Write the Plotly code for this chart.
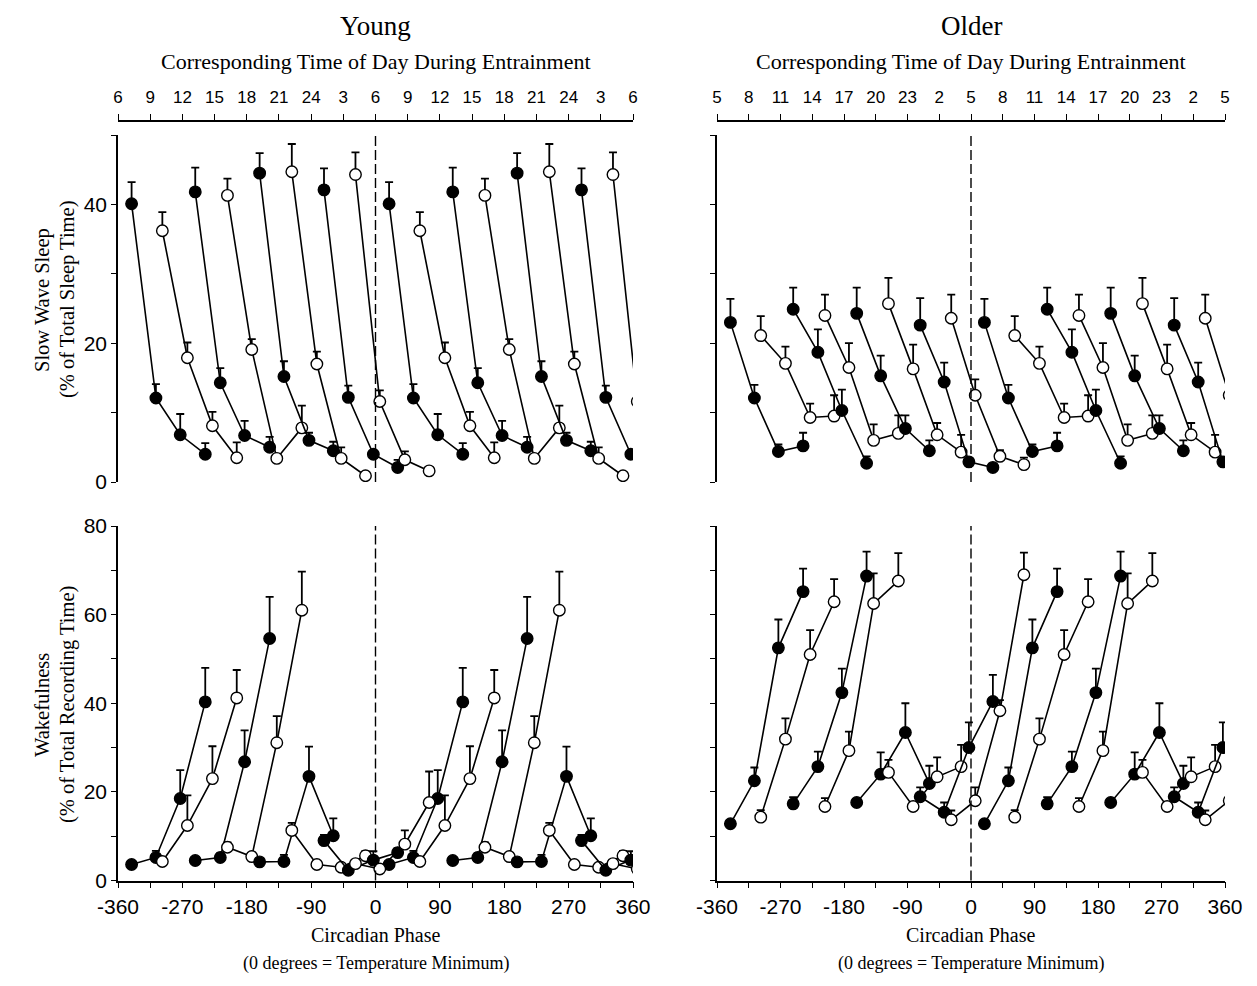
import plotly.graph_objects as go

# ---------------- data ----------------
# circadian phase (deg) of the 4 points of each of the 8 episode bins
PHASE = [
    [-341, -307, -273, -238],
    [-298, -263, -228, -194],
    [-252, -217, -183, -148],
    [-207, -173, -138, -103],
    [-162, -128, -93, -59],
    [-117, -82, -48, -14],
    [-72, -38, -3, 31],
    [-28, 6, 41, 75],
]
FILLED = [True, False, True, False, True, False, True, False]

young_sws = [
    [40.1, 12.1, 6.8, 4.0],
    [36.2, 17.9, 8.1, 3.5],
    [41.8, 14.3, 6.7, 5.0],
    [41.3, 19.1, 3.4, 7.8],
    [44.5, 15.2, 6.0, 4.5],
    [44.7, 17.0, 3.4, 0.9],
    [42.1, 12.2, 4.0, 2.1],
    [44.3, 11.6, 3.2, 1.6],
]
young_sws_err = [
    [3.1, 2.0, 3.0, 1.6],
    [2.7, 2.2, 2.0, 2.2],
    [3.5, 2.1, 2.1, 1.5],
    [2.4, 1.5, 0.0, 3.2],
    [2.9, 2.2, 1.1, 1.3],
    [4.0, 1.8, 1.6, 0.0],
    [3.1, 1.7, 0.0, 1.1],
    [3.2, 1.6, 1.2, 0.0],
]
young_wake = [
    [3.6, 5.2, 18.5, 40.3],
    [4.3, 12.4, 23.0, 41.2],
    [4.5, 5.2, 26.8, 54.6],
    [7.5, 5.4, 31.1, 61.0],
    [4.2, 4.3, 23.5, 10.1],
    [11.3, 3.6, 3.0, 5.6],
    [9.0, 2.3, 4.6, 6.3],
    [3.8, 2.6, 8.2, 17.6],
]
young_wake_err = [
    [0.0, 1.5, 6.4, 7.7],
    [0.0, 6.8, 7.3, 6.3],
    [0.0, 1.0, 7.1, 9.4],
    [1.1, 0.0, 6.0, 8.7],
    [0.0, 1.5, 6.7, 3.9],
    [1.7, 0.0, 0.0, 1.1],
    [1.3, 0.0, 2.0, 1.0],
    [0.0, 0.0, 3.1, 7.0],
]
older_sws = [
    [23.0, 12.1, 4.4, 5.2],
    [21.1, 17.1, 9.3, 9.5],
    [24.9, 18.7, 10.3, 2.7],
    [24.0, 16.5, 6.0, 7.0],
    [24.3, 15.3, 7.7, 4.5],
    [25.7, 16.3, 6.8, 4.3],
    [22.6, 14.4, 2.9, 2.1],
    [23.6, 12.5, 3.7, 2.5],
]
older_sws_err = [
    [3.4, 1.9, 1.0, 1.9],
    [2.8, 2.4, 2.0, 3.0],
    [3.1, 3.3, 3.0, 1.0],
    [3.0, 3.5, 2.3, 2.6],
    [3.7, 2.9, 1.9, 1.5],
    [3.7, 3.5, 1.7, 2.5],
    [3.9, 2.8, 0.0, 0.0],
    [3.4, 2.3, 0.9, 1.0],
]
older_wake = [
    [12.8, 22.5, 52.5, 65.2],
    [14.3, 31.9, 51.0, 62.9],
    [17.3, 25.7, 42.4, 68.7],
    [16.7, 29.3, 62.5, 67.6],
    [17.6, 24.0, 33.4, 21.9],
    [24.4, 16.7, 23.4, 25.7],
    [18.9, 15.4, 30.0, 40.4],
    [13.7, 18.0, 38.3, 69.0],
]
older_wake_err = [
    [0.0, 3.0, 6.4, 5.2],
    [1.6, 4.7, 5.5, 5.1],
    [1.5, 3.4, 5.4, 5.5],
    [1.9, 4.3, 6.8, 6.3],
    [0.0, 4.9, 6.6, 4.0],
    [2.8, 0.0, 4.4, 4.9],
    [2.1, 2.2, 5.7, 6.0],
    [2.1, 3.0, 2.4, 5.0],
]

PHASE_TICKS = list(range(-360, 361, 45))
PHASE_LABELS = ["-360", "", "-270", "", "-180", "", "-90", "", "0", "",
                "90", "", "180", "", "270", "", "360"]
TOD_YOUNG = ["6", "9", "12", "15", "18", "21", "24", "3", "6", "9", "12",
             "15", "18", "21", "24", "3", "6"]
TOD_OLDER = ["5", "8", "11", "14", "17", "20", "23", "2", "5", "8", "11",
             "14", "17", "20", "23", "2", "5"]
SWS_TICKS = [0, 10, 20, 30, 40, 50]
SWS_LABELS = ["0", "", "20", "", "40", ""]
WAKE_TICKS = [0, 10, 20, 30, 40, 50, 60, 70, 80]
WAKE_LABELS = ["0", "", "20", "", "40", "", "60", "", "80"]

# ---------------- layout geometry (page has an 8px body margin) ----------------
OFF = 8
W, H = 1257 - 2 * OFF, 986 - 2 * OFF


def fx(p):
    return (p - OFF) / W


def fy(p):
    return 1 - (p - OFF) / H


YOUNG_DOM = [fx(118), fx(633)]
OLDER_DOM = [fx(717), fx(1225)]
TOP_DOM = [fy(482), fy(135)]
BOT_DOM = [fy(880.5), fy(526)]
TOD_POS = fy(121)

SANS = "Liberation Sans, Arial, sans-serif"
SERIF = "Liberation Serif, Times New Roman, serif"

fig = go.Figure()

panels = [
    ("x", "y", young_sws, young_sws_err),
    ("x2", "y2", older_sws, older_sws_err),
    ("x3", "y3", young_wake, young_wake_err),
    ("x4", "y4", older_wake, older_wake_err),
]

for xa, ya, vals, errs in panels:
    for i in range(len(PHASE)):
        ph = PHASE[i]
        xs = list(ph) + [None] + [p + 360 for p in ph]
        ys = list(vals[i]) + [None] + list(vals[i])
        es = list(errs[i]) + [0] + list(errs[i])
        filled = FILLED[i]
        fig.add_trace(go.Scatter(
            x=xs, y=ys, xaxis=xa, yaxis=ya, mode="lines+markers",
            line=dict(color="black", width=1.6),
            marker=dict(symbol="circle", size=11.5,
                        color="black" if filled else "white",
                        line=dict(color="black", width=1.4)),
            error_y=dict(type="data", symmetric=False, array=es,
                         arrayminus=[0] * len(es), color="black",
                         thickness=1.8, width=4),
            showlegend=False, hoverinfo="skip",
        ))

axis_common = dict(showgrid=False, zeroline=False, showline=True,
                   linecolor="black", linewidth=1.6, ticks="outside",
                   tickcolor="black", tickwidth=1.4)
BIG_TICK = dict(family=SANS, size=21, color="black")
TOD_TICK = dict(family=SANS, size=17, color="black")

fig.update_layout(
    width=W, height=H, template="none",
    paper_bgcolor="white", plot_bgcolor="white",
    margin=dict(l=0, r=0, t=0, b=0),
    showlegend=False,
    xaxis=dict(domain=YOUNG_DOM, range=[-360, 360], anchor="free",
               position=TOD_POS, side="top", tickvals=PHASE_TICKS,
               ticktext=TOD_YOUNG, ticklen=6, ticklabelstandoff=4,
               tickfont=TOD_TICK, **axis_common),
    xaxis2=dict(domain=OLDER_DOM, range=[-360, 360], anchor="free",
                position=TOD_POS, side="top", tickvals=PHASE_TICKS,
                ticktext=TOD_OLDER, ticklen=6, ticklabelstandoff=4,
                tickfont=TOD_TICK, **axis_common),
    xaxis3=dict(domain=YOUNG_DOM, range=[-360, 360], anchor="y3",
                tickvals=PHASE_TICKS, ticktext=PHASE_LABELS, ticklen=6,
                tickfont=BIG_TICK, **axis_common),
    xaxis4=dict(domain=OLDER_DOM, range=[-360, 360], anchor="y4",
                tickvals=PHASE_TICKS, ticktext=PHASE_LABELS, ticklen=6,
                tickfont=BIG_TICK, **axis_common),
    yaxis=dict(domain=TOP_DOM, range=[0, 50], anchor="x",
               tickvals=SWS_TICKS, ticktext=SWS_LABELS, ticklen=5,
               tickfont=BIG_TICK, **axis_common),
    yaxis2=dict(domain=TOP_DOM, range=[0, 50], anchor="x2",
                tickvals=SWS_TICKS, showticklabels=False, ticklen=5,
                **axis_common),
    yaxis3=dict(domain=BOT_DOM, range=[0, 80], anchor="x3",
                tickvals=WAKE_TICKS, ticktext=WAKE_LABELS, ticklen=5,
                tickfont=BIG_TICK, **axis_common),
    yaxis4=dict(domain=BOT_DOM, range=[0, 80], anchor="x4",
                tickvals=WAKE_TICKS, showticklabels=False, ticklen=5,
                **axis_common),
)

# dashed line at phase 0 (temperature minimum) in each panel
for xa, ya in [("x", "y"), ("x2", "y2"), ("x3", "y3"), ("x4", "y4")]:
    fig.add_shape(type="line", xref=xa, yref=ya + " domain", x0=0, x1=0,
                  y0=0, y1=1, line=dict(color="black", width=1.4,
                                        dash="10px,4px"))


def ann(text, x, y, size, family=SERIF, angle=0):
    fig.add_annotation(text=text, xref="paper", yref="paper", x=fx(x),
                       y=fy(y), showarrow=False, textangle=angle,
                       xanchor="center", yanchor="middle",
                       font=dict(family=family, size=size, color="black"))


for cx, name in [(375.5, "Young"), (971, "Older")]:
    ann(name, cx, 26, 27)
    ann("Corresponding Time of Day During Entrainment", cx, 61, 22)
    ann("Circadian Phase", cx, 935, 20)
    ann("(0 degrees = Temperature Minimum)", cx, 963, 18)

ann("Slow Wave Sleep", 42, 300, 20.5, angle=-90)
ann("(% of Total Sleep Time)", 67, 300, 20.5, angle=-90)
ann("Wakefulness", 42, 705, 20.5, angle=-90)
ann("(% of Total Recording Time)", 67, 705, 20.5, angle=-90)

fig.write_html("out.html")
